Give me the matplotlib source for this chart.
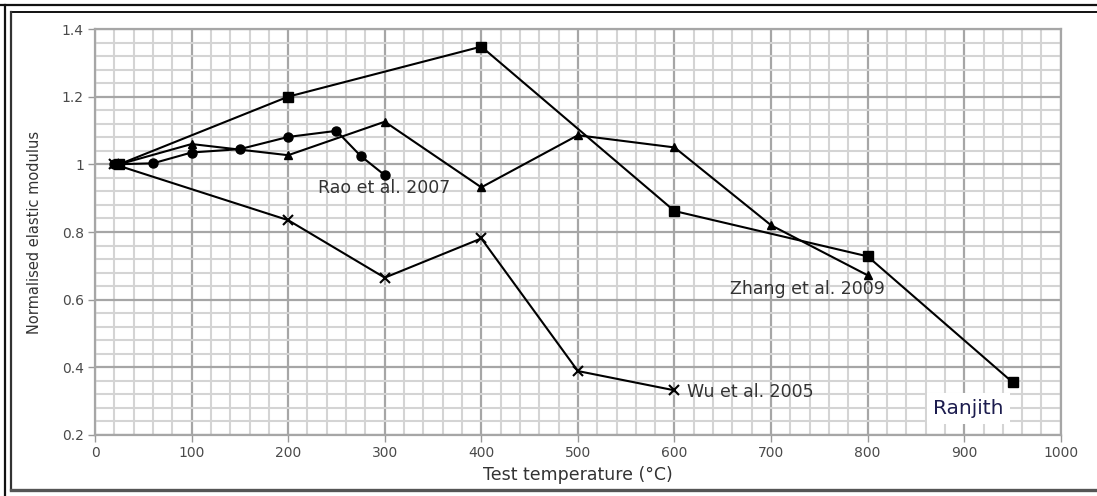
import matplotlib.pyplot as plt
from matplotlib.lines import Line2D
import numpy as np

plt.rcParams["font.family"] = ["DejaVu Sans"]

# Normalised elastic modulus vs. test temperature, one series per study
ranjith_temp = [25, 200, 400, 600, 800, 950]
ranjith_mod = [1.0, 1.2, 1.348, 0.862, 0.728, 0.356]

rao_temp = [20, 60, 100, 150, 200, 250, 275, 300]
rao_mod = [1.0, 1.003, 1.035, 1.045, 1.081, 1.099, 1.025, 0.968]

zhang_temp = [25, 100, 200, 300, 400, 500, 600, 700, 800]
zhang_mod = [1.0, 1.06, 1.027, 1.126, 0.932, 1.086, 1.05, 0.82, 0.672]

wu_temp = [20, 200, 300, 400, 500, 600]
wu_mod = [1.0, 0.835, 0.665, 0.781, 0.389, 0.332]

y_ticks = [0.2, 0.4, 0.6, 0.8, 1.0, 1.2, 1.4]
y_tick_labels = ["0.2", "0.4", "0.6", "0.8", "1", "1.2", "1.4"]
x_ticks = list(range(0, 1001, 100))

fig = plt.figure(figsize=(10.97, 4.96), dpi=100)
ax = fig.add_axes([0.0866, 0.123, 0.8804, 0.8185])

ax.set_xlim(0, 1000)
ax.set_ylim(0.2, 1.4)

# graph-paper grid: light minor lines, darker major lines
ax.set_xticks(np.arange(0, 1001, 20), minor=True)
ax.set_yticks(np.arange(0.2, 1.401, 0.04), minor=True)
ax.grid(which="minor", color="#d4d4d4", linewidth=1.5, zorder=0)
ax.grid(which="major", color="#a6a6a6", linewidth=1.6, zorder=0)
ax.tick_params(which="minor", length=0)

ax.set_xticks(x_ticks)
ax.set_yticks(y_ticks)
ax.set_yticklabels(y_tick_labels)
ax.tick_params(which="major", length=5, width=1, color="#999999",
               labelsize=10, labelcolor="#4a4a4a", pad=3)

for spine in ax.spines.values():
    spine.set_color("#a6a6a6")
    spine.set_linewidth(1.6)

line_kw = dict(color="black", linewidth=1.5, zorder=3)
ax.plot(ranjith_temp, ranjith_mod, marker="s", markersize=6.5, **line_kw)
ax.plot(rao_temp, rao_mod, marker="o", markersize=6.5, **line_kw)
ax.plot(zhang_temp, zhang_mod, marker="^", markersize=5.5, **line_kw)
ax.plot(wu_temp, wu_mod, marker="x", markersize=7, markeredgewidth=1.5, **line_kw)

label_kw = dict(fontsize=12.5, color="#333333", zorder=4)
ax.text(231, 0.930, "Rao et al. 2007", ha="left", va="center", **label_kw)
ax.text(657, 0.631, "Zhang et al. 2009", ha="left", va="center", **label_kw)
ax.text(613, 0.326, "Wu et al. 2005", ha="left", va="center", **label_kw)

ax.text(868, 0.279, "Ranjith", ha="left", va="center", fontsize=14.5,
        color="#1c1c4e", zorder=4,
        bbox=dict(boxstyle="square,pad=0.3", facecolor="white",
                  edgecolor="none"))

ax.set_xlabel("Test temperature (°C)", fontsize=12.5, color="#333333", labelpad=4)
ax.set_ylabel("Normalised elastic modulus", fontsize=10.5, color="#333333", labelpad=14)

# double frame around the figure
fig.add_artist(Line2D([0, 1], [1 - 5 / 496] * 2, color="#111111", linewidth=1.6))
fig.add_artist(Line2D([5 / 1097] * 2, [0, 1 - 5 / 496], color="#111111", linewidth=1.6))
fig.add_artist(Line2D([11 / 1097, 1], [1 - 12 / 496] * 2, color="#111111", linewidth=1.4))
fig.add_artist(Line2D([11 / 1097] * 2, [6 / 496, 1 - 12 / 496], color="#333333", linewidth=1.6))
fig.add_artist(Line2D([11 / 1097, 1], [6 / 496] * 2, color="#555555", linewidth=2.4))

fig.savefig("out.png", dpi=100)
